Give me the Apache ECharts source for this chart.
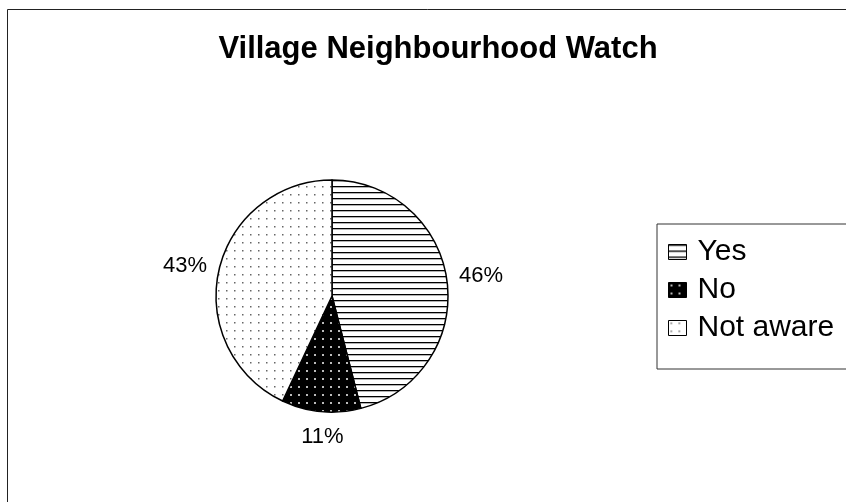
<!DOCTYPE html>
<html>
<head>
<meta charset="utf-8">
<title>Village Neighbourhood Watch</title>
<script src="https://cdn.jsdelivr.net/npm/echarts@6/dist/echarts.min.js"></script>
<style>
html, body { margin: 0; padding: 0; background: #fff; }
#main { width: 846px; height: 502px; }
</style>
</head>
<body>
<div id="main"></div>
<script>
// data
var categories = ['Yes', 'No', 'Not aware'];
var percents = [46, 11, 43];

// fill patterns (hatch like the old office charts)
function makePattern(kind) {
	var c = document.createElement('canvas');
	var ctx = c.getContext('2d');
	if (kind === 'lines') {
		c.width = 6; c.height = 6;
		ctx.fillStyle = '#fff';
		ctx.fillRect(0, 0, 6, 6);
		ctx.fillStyle = '#000';
		ctx.fillRect(0, 0, 6, 1.3);
	} else if (kind === 'darkdots') {
		c.width = 8; c.height = 8;
		ctx.fillStyle = '#000';
		ctx.fillRect(0, 0, 8, 8);
		ctx.fillStyle = '#bbb';
		ctx.fillRect(2, 2, 2, 2);
	} else {
		c.width = 8; c.height = 8;
		ctx.fillStyle = '#fff';
		ctx.fillRect(0, 0, 8, 8);
		ctx.fillStyle = '#666';
		ctx.fillRect(2, 2, 1.5, 1.5);
	}
	return { image: c, repeat: 'repeat' };
}
var fills = [makePattern('lines'), makePattern('darkdots'), makePattern('lightdots')];

var pieData = [];
for (var i = 0; i < categories.length; i++) {
	pieData.push({
		name: categories[i],
		value: percents[i],
		itemStyle: { color: fills[i] }
	});
}

var chart = echarts.init(document.getElementById('main'), null, { renderer: 'canvas' });
var font = '"Liberation Sans", Arial, Helvetica, sans-serif';

var option = {
	animation: false,
	backgroundColor: '#fff',
	title: {
		text: 'Village Neighbourhood Watch',
		left: 433,
		top: 29,
		textAlign: 'center',
		textStyle: { fontFamily: font, fontSize: 31, fontWeight: 'bold', color: '#000' }
	},
	legend: {
		orient: 'vertical',
		left: 657,
		top: 224,
		padding: [13, 60, 26, 11],
		itemGap: 8,
		itemWidth: 18,
		itemHeight: 15,
		icon: 'rect',
		borderColor: '#333',
		borderWidth: 1,
		itemStyle: { borderColor: '#000', borderWidth: 1 },
		textStyle: { fontFamily: font, fontSize: 30, color: '#000', padding: [0, 0, 0, 6] },
		data: categories
	},
	graphic: [{
		type: 'rect',
		left: 5,
		top: 7,
		shape: { width: 900, height: 600 },
		style: { fill: 'none', stroke: '#222', lineWidth: 1 },
		silent: true
	}],
	series: [{
		type: 'pie',
		center: [332, 296],
		radius: 116,
		startAngle: 90,
		clockwise: true,
		itemStyle: { borderColor: '#000', borderWidth: 1.5 },
		label: {
			show: true,
			position: 'outside',
			formatter: '{d}%',
			fontFamily: font,
			fontSize: 22,
			color: '#000'
		},
		labelLine: { show: false, length: 7, length2: 0 },
		emphasis: { disabled: true },
		labelLayout: function (params) {
			if (params.dataIndex === 0) return { dy: -5 };
			if (params.dataIndex === 1) return { align: 'center', dx: 7, dy: 18 };
			return { dy: -3 };
		},
		data: pieData
	}]
};

chart.setOption(option);
window.addEventListener('resize', chart.resize);
</script>
</body>
</html>
